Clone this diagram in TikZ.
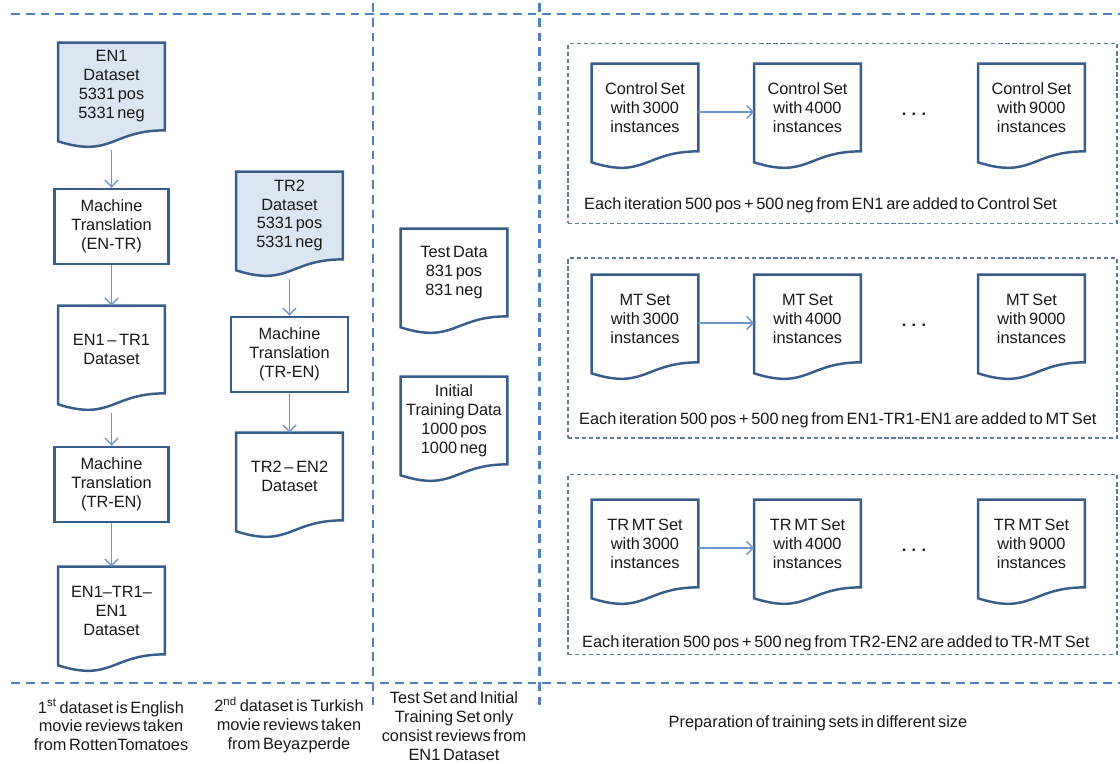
\documentclass[tikz,border=0pt]{standalone}
\usepackage{fontspec}
\setmainfont[WordSpace=0.6]{Liberation Sans}
\usepackage{tikz}
\usetikzlibrary{positioning, calc, arrows.meta}
\definecolor{docblue}{RGB}{56,93,138}
\definecolor{docfill}{RGB}{220,230,242}
\definecolor{secblue}{RGB}{79,129,189}
\definecolor{grpblue}{RGB}{95,120,160}
\definecolor{arrblue}{RGB}{112,148,204}
\definecolor{txt}{RGB}{25,25,25}
\tikzstyle{line} = [draw=arrblue, line width=0.8pt, -{Straight Barb[length=3.8pt,width=7.5pt]}]
\tikzstyle{doc} = [rectangle, minimum width=2.12cm, minimum height=1.74cm, inner sep=0pt, align=center]
\tikzstyle{box} = [rectangle, draw=docblue, line width=1.4pt, minimum width=2.28cm, minimum height=1.5cm, inner sep=0pt, align=center]
\tikzstyle{docline} = [draw=docblue, line width=1.4pt]
\tikzstyle{sect} = [draw=secblue, line width=1.6pt, dash pattern=on 5pt off 3.4pt]
\tikzstyle{group} = [rectangle, draw=grpblue, line width=0.6pt, dash pattern=on 2.4pt off 1.6pt, minimum width=10.98cm, minimum height=3.6cm]
\tikzstyle{note} = [align=center]
\tikzstyle{more} = [font=\bfseries\fontsize{9.3}{10.8}\selectfont]
\pgfdeclarelayer{background}
\pgfdeclarelayer{foreground}
\pgfsetlayers{background,main,foreground}
% document outline with wavy bottom, drawn behind the node text
\newcommand{\docshape}[2][white]{%
  \begin{pgfonlayer}{background}
    \path [docline, fill=#1] (#2.north west) -- (#2.north east) -- (#2.south east)
      .. controls (#2.south) and ($(#2.south)+(0,-0.56)$) .. ($(#2.south west)+(0,-0.22)$) -- cycle;
  \end{pgfonlayer}}

\begin{document}
\begin{tikzpicture}[every node/.style={font=\fontsize{9.3}{10.8}\selectfont, text=txt}]
	\useasboundingbox (0,0) rectangle (22.4,-15.28);

	% section lines
	\draw [sect] (0.22,-0.28) -- (22.4,-0.28);
	\draw [sect] (0.22,-13.66) -- (22.4,-13.66);
	\draw [sect] (7.46,-0.06) -- (7.46,-14.1);
	\draw [sect] (10.79,-0.06) -- (10.79,-14.1);

	% English branch
	\node [doc] at (2.23,-1.73) (en1) {EN1\\Dataset\\5331 pos\\5331 neg};
	\node [box, below of = en1, node distance = 2.8cm] (mt1) {Machine\\Translation\\(EN-TR)};
	\node [doc, below of = mt1, node distance = 2.46cm] (entr) {EN1 – TR1\\Dataset};
	\node [box, below of = entr, node distance = 2.7cm] (mt2) {Machine\\Translation\\(TR-EN)};
	\node [doc, below of = mt2, node distance = 2.52cm] (entren) {EN1–TR1–\\EN1\\Dataset};

	% Turkish branch
	\node [doc] at (5.79,-4.31) (tr2) {TR2\\Dataset\\5331 pos\\5331 neg};
	\node [box, below of = tr2, node distance = 2.78cm, minimum width=2.34cm] (mt3) {Machine\\Translation\\(TR-EN)};
	\node [doc, below of = mt3, node distance = 2.44cm] (tren) {TR2 – EN2\\Dataset};

	% test and initial data
	\node [doc] at (9.08,-5.45) (test) {Test Data\\831 pos\\831 neg};
	\node [doc, below of = test, node distance = 2.96cm] (init) {Initial\\Training Data\\1000 pos\\1000 neg};

	% training set groups
	\node [group] at (16.85,-2.67) (g1) {};
	\node [group] at (16.85,-6.96) (g2) {};
	\node [group] at (16.85,-11.29) (g3) {};

	\node [doc] at (12.9,-2.15) (cs1) {Control Set\\with 3000\\instances};
	\node [doc, right of = cs1, node distance = 3.25cm] (cs2) {Control Set\\with 4000\\instances};
	\node [doc, right of = cs2, node distance = 4.48cm] (cs3) {Control Set\\with 9000\\instances};
	\node [more, right of = cs2, node distance = 2.13cm, yshift = -0.14cm] (dots1) {.\,\,.\,\,.};
	\node [note, anchor = west] at (11.56,-4.1) (n1) {Each iteration 500 pos + 500 neg from EN1 are added to Control Set};

	\node [doc] at (12.9,-6.37) (ms1) {MT Set\\with 3000\\instances};
	\node [doc, right of = ms1, node distance = 3.25cm] (ms2) {MT Set\\with 4000\\instances};
	\node [doc, right of = ms2, node distance = 4.48cm] (ms3) {MT Set\\with 9000\\instances};
	\node [more, right of = ms2, node distance = 2.13cm, yshift = -0.14cm] (dots2) {.\,\,.\,\,.};
	\node [note, anchor = west] at (11.46,-8.4) (n2) {Each iteration 500 pos + 500 neg from EN1-TR1-EN1 are added to MT Set};

	\node [doc] at (12.9,-10.87) (ts1) {TR MT Set\\with 3000\\instances};
	\node [doc, right of = ts1, node distance = 3.25cm] (ts2) {TR MT Set\\with 4000\\instances};
	\node [doc, right of = ts2, node distance = 4.48cm] (ts3) {TR MT Set\\with 9000\\instances};
	\node [more, right of = ts2, node distance = 2.13cm, yshift = -0.14cm] (dots3) {.\,\,.\,\,.};
	\node [note, anchor = west] at (11.52,-12.86) (n3) {Each iteration 500 pos + 500 neg from TR2-EN2 are added to TR-MT Set};

	% outlines
	\docshape[docfill]{en1}
	\docshape[docfill]{tr2}
	\foreach \d in {entr, entren, tren, test, init, cs1, cs2, cs3, ms1, ms2, ms3, ts1, ts2, ts3}
		\docshape{\d};

	% arrows
	\path [line] ([yshift=-0.4cm]en1.south) -- (mt1.north);
	\path [line] (mt1.south) -- (entr.north);
	\path [line] ([yshift=-0.4cm]entr.south) -- (mt2.north);
	\path [line] (mt2.south) -- (entren.north);
	\path [line] ([yshift=-0.4cm]tr2.south) -- (mt3.north);
	\path [line] (mt3.south) -- (tren.north);
	\path [line] ([yshift=-0.09cm]cs1.east) -- ([yshift=-0.09cm]cs2.west);
	\path [line] ([yshift=-0.09cm]ms1.east) -- ([yshift=-0.09cm]ms2.west);
	\path [line] ([yshift=-0.09cm]ts1.east) -- ([yshift=-0.09cm]ts2.west);

	% captions
	\node [note] at (2.22,-14.5) (c1) {1\textsuperscript{st} dataset is English\\movie reviews taken\\from RottenTomatoes};
	\node [note] at (5.78,-14.5) (c2) {2\textsuperscript{nd} dataset is Turkish\\movie reviews taken\\from Beyazperde};
	\node [note] at (9.08,-14.53) (c3) {Test Set and Initial\\Training Set only\\consist reviews from\\EN1 Dataset};
	\node [note] at (16.36,-14.46) (c4) {Preparation of training sets in different size};
\end{tikzpicture}
\end{document}
